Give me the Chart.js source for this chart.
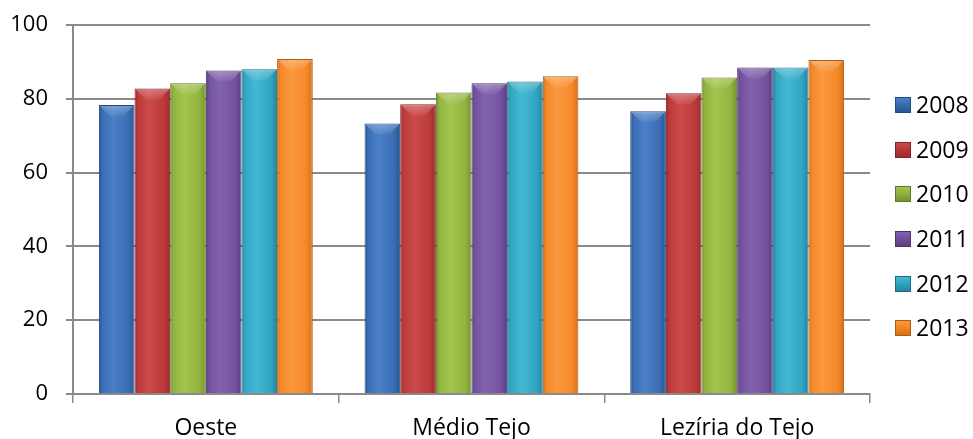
<!DOCTYPE html>
<html>
<head>
<meta charset="utf-8">
<script src="https://cdn.jsdelivr.net/npm/chart.js@4.4.1/dist/chart.umd.min.js"></script>
<style>
  html, body { margin: 0; padding: 0; background: #fff; }
  #wrap { position: relative; width: 973px; height: 439px; }
  #legend { position: absolute; left: 895px; top: 83px; font-family: "Open Sans", sans-serif; font-size: 23px; color: #000; }
  #legend .item { display: flex; align-items: center; height: 44.6px; }
  #legend .sw { width: 16px; height: 16px; margin-right: 5px; box-sizing: border-box; }
  #legend .txt { line-height: 24px; position: relative; top: -1px; }
</style>
</head>
<body>
<div id="wrap">
  <canvas id="c" width="973" height="439"></canvas>
  <div id="legend"></div>
</div>
<script>
// Regions and survey years
const regions = ["Oeste", "Médio Tejo", "Lezíria do Tejo"];
const years = ["2008", "2009", "2010", "2011", "2012", "2013"];

// Values per year, one entry per region
const v2008 = [78.3, 73.3, 76.6];
const v2009 = [82.8, 78.5, 81.5];
const v2010 = [84.2, 81.7, 85.8];
const v2011 = [87.7, 84.2, 88.5];
const v2012 = [88.0, 84.7, 88.5];
const v2013 = [90.8, 86.1, 90.5];

const yTicks = [0, 20, 40, 60, 80, 100];

// Shades per series: [edge, mid, highlight, border]
const palette = [
  ["#2a5796", "#3a6db4", "#4a80c8", "#24497c"],
  ["#9c2a2c", "#bd3a3b", "#cc4a4a", "#7e2224"],
  ["#769330", "#92b53f", "#a2c44e", "#5f7828"],
  ["#5b3f83", "#74529f", "#8262ad", "#4a336b"],
  ["#2186a0", "#31a6c2", "#44b8d3", "#1c6d82"],
  ["#d86f16", "#f5892a", "#fa983e", "#b35b12"]
];

const seriesValues = [v2008, v2009, v2010, v2011, v2012, v2013];

function barFill(i) {
  return function (ctx) {
    const chart = ctx.chart;
    const meta = chart.getDatasetMeta(ctx.datasetIndex);
    const el = meta.data[ctx.dataIndex];
    const p = palette[i];
    if (!el || !isFinite(el.x) || !isFinite(el.width) || !el.width) return p[1];
    const x0 = el.x - el.width / 2, x1 = el.x + el.width / 2;
    const g = chart.ctx.createLinearGradient(x0, 0, x1, 0);
    g.addColorStop(0, p[0]);
    g.addColorStop(0.1, p[1]);
    g.addColorStop(0.4, p[2]);
    g.addColorStop(0.82, p[1]);
    g.addColorStop(1, p[0]);
    return g;
  };
}

const datasets = years.map((y, i) => ({
  label: y,
  data: seriesValues[i],
  backgroundColor: barFill(i),
  borderColor: palette[i][3],
  borderWidth: 1,
  barPercentage: 1.0,
  categoryPercentage: 0.805
}));

// Top bevel: light face on each bar's cap, from its own element geometry
const bevel = {
  id: "bevel",
  afterDatasetsDraw(chart) {
    const c = chart.ctx;
    chart.data.datasets.forEach((ds, di) => {
      const meta = chart.getDatasetMeta(di);
      meta.data.forEach(el => {
        const w = el.width, x0 = el.x - w / 2, x1 = el.x + w / 2, top = el.y;
        const h = 11;
        c.save();
        c.beginPath();
        c.moveTo(x0 + 1, top + 1);
        c.lineTo(x1 - 1, top + 1);
        c.lineTo(x1 - 11, top + h);
        c.lineTo(x0 + 11, top + h);
        c.closePath();
        const g = c.createLinearGradient(0, top, 0, top + h);
        g.addColorStop(0, "rgba(255,255,255,0.30)");
        g.addColorStop(1, "rgba(255,255,255,0.05)");
        c.fillStyle = g;
        c.fill();
        c.restore();
      });
    });
  }
};

const yFont = { family: "'Open Sans', sans-serif", size: 22 };
const xFont = { family: "'Open Sans', sans-serif", size: 23 };

const chart = new Chart(document.getElementById("c"), {
  type: "bar",
  data: { labels: regions, datasets },
  options: {
    responsive: false,
    animation: false,
    layout: { padding: { top: 25, right: 103, left: 0, bottom: 0 } },
    plugins: { legend: { display: false }, tooltip: { enabled: false } },
    scales: {
      x: {
        afterFit(s) { s.height = 45; s.paddingLeft = 0; s.paddingRight = 0; },
        grid: { drawOnChartArea: false, drawTicks: true, tickLength: 9, color: "#8a8a8a", lineWidth: 1.5, offset: true },
        border: { color: "#8a8a8a", width: 2 },
        ticks: { color: "#000", font: xFont, padding: 12 }
      },
      y: {
        min: 0, max: 100,
        afterFit(s) { s.width = 73; s.paddingTop = 0; s.paddingBottom = 0; },
        afterBuildTicks(s) { s.ticks = yTicks.map(v => ({ value: v })); },
        grid: { color: "#8a8a8a", lineWidth: 2, tickLength: 7 },
        border: { color: "#8a8a8a", width: 2 },
        ticks: { color: "#000", font: yFont, padding: 18 }
      }
    }
  },
  plugins: [bevel]
});
chart.update();

// Legend
const lg = document.getElementById("legend");
years.forEach((y, i) => {
  const p = palette[i];
  const item = document.createElement("div");
  item.className = "item";
  const sw = document.createElement("div");
  sw.className = "sw";
  sw.style.background = `linear-gradient(180deg, ${p[2]} 0%, ${p[1]} 40%, ${p[0]} 100%)`;
  sw.style.border = `1px solid ${p[3]}`;
  const t = document.createElement("span");
  t.className = "txt";
  t.textContent = y;
  item.appendChild(sw);
  item.appendChild(t);
  lg.appendChild(item);
});
</script>
</body>
</html>
